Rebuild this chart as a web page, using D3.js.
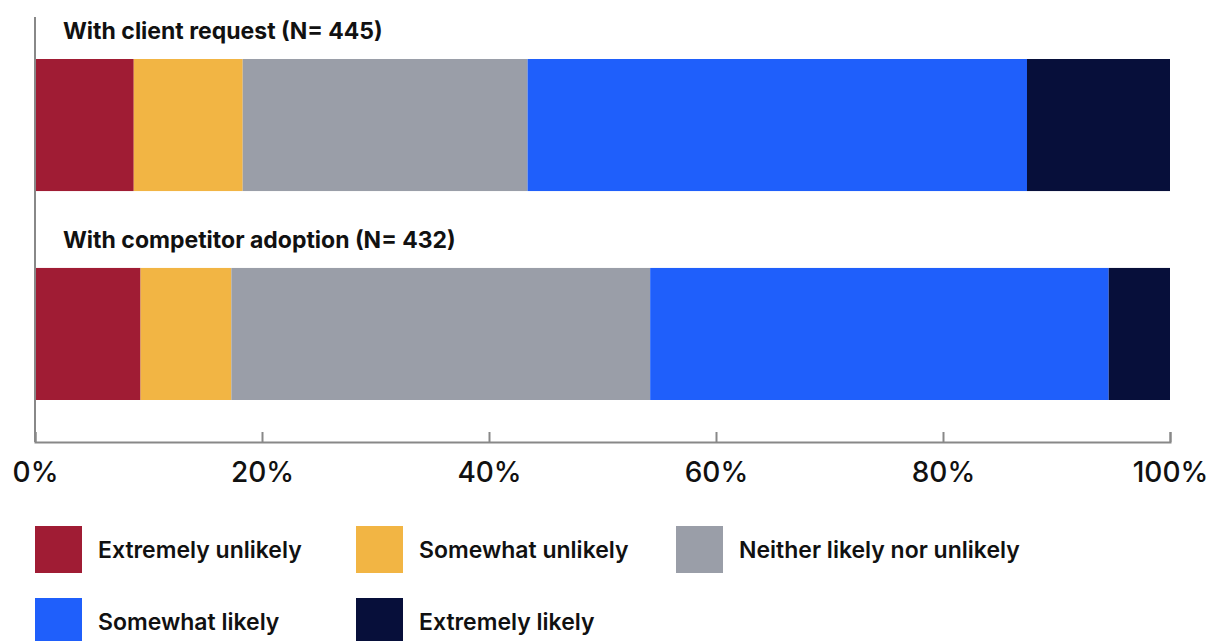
<!DOCTYPE html>
<html>
<head>
<meta charset="utf-8">
<script src="https://cdn.jsdelivr.net/npm/d3@7"></script>
<style>
  body { margin: 0; background: #fff; }
  text { font-family: Inter, "Noto Sans", sans-serif; fill: #111; }
</style>
</head>
<body>
<div class="canvas"></div>
<script>
const categories = ["With client request (N= 445)", "With competitor adoption (N= 432)"];
const responses = ["Extremely unlikely", "Somewhat unlikely", "Neither likely nor unlikely", "Somewhat likely", "Extremely likely"];
const clientRequest = [8.7, 9.6, 25.1, 44.0, 12.6];
const competitorAdoption = [9.3, 8.0, 36.9, 40.4, 5.4];
const tickValues = [0, 20, 40, 60, 80, 100];
const colours = ["#a01c34", "#f2b544", "#9a9ea8", "#1f5ffb", "#070f3a"];

const width = 1208, height = 641;
const svg = d3.select('.canvas')
    .append('svg')
    .attr('width', width)
    .attr('height', height);

const x = d3.scaleLinear().domain([0, 100]).range([35, 1170]);
const y = d3.scaleBand().domain(categories).range([59, 400]).paddingInner(0.368).paddingOuter(0);
const colour = d3.scaleOrdinal().domain(responses).range(colours);

// build stacked rows
const rows = categories.map((c, i) => {
    const vals = i === 0 ? clientRequest : competitorAdoption;
    const row = {cat: c};
    responses.forEach((r, j) => row[r] = vals[j]);
    return row;
});
const series = d3.stack().keys(responses)(rows);

svg.append('g').selectAll('g')
    .data(series)
    .join('g')
    .attr('fill', d => colour(d.key))
    .selectAll('rect')
    .data(d => d)
    .join('rect')
    .attr('x', d => x(d[0]))
    .attr('width', d => x(d[1]) - x(d[0]))
    .attr('y', d => y(d.data.cat))
    .attr('height', y.bandwidth());

// category titles
svg.append('g').selectAll('text')
    .data(categories)
    .join('text')
    .attr('x', 63)
    .attr('y', d => y(d) - 20)
    .attr('font-size', 23)
    .attr('font-weight', 700)
    .text(d => d);

// axes
const axisY = 442;
svg.append('line')
    .attr('x1', x(0)).attr('x2', x(0))
    .attr('y1', 17).attr('y2', axisY)
    .attr('stroke', '#888').attr('stroke-width', 2);

const xAxis = d3.axisBottom(x).tickValues(tickValues).tickFormat(d => d + '%').tickSizeInner(-10).tickSizeOuter(-10).tickPadding(20);
const xAxisGroup = svg.append('g')
    .attr('transform', `translate(0, ${axisY})`)
    .call(xAxis);
xAxisGroup.select('.domain').attr('stroke', '#888').attr('stroke-width', 2);
xAxisGroup.selectAll('.tick line').attr('stroke', '#888').attr('stroke-width', 2);
xAxisGroup.selectAll('.tick text')
    .attr('font-size', 28)
    .attr('font-weight', 500)
    .attr('fill', '#111')
    .style('font-family', 'Inter, "Noto Sans", sans-serif');

// legend
const legendPos = [[35, 526], [356, 526], [676, 526], [35, 598], [356, 598]];
const legend = svg.append('g').selectAll('g')
    .data(responses)
    .join('g')
    .attr('transform', (d, i) => `translate(${legendPos[i][0]}, ${legendPos[i][1]})`);
legend.append('rect')
    .attr('width', 47).attr('height', 47)
    .attr('fill', d => colour(d));
legend.append('text')
    .attr('x', 63).attr('y', 24)
    .attr('dy', '0.35em')
    .attr('font-size', 23)
    .attr('font-weight', 600)
    .text(d => d);
</script>
</body>
</html>
